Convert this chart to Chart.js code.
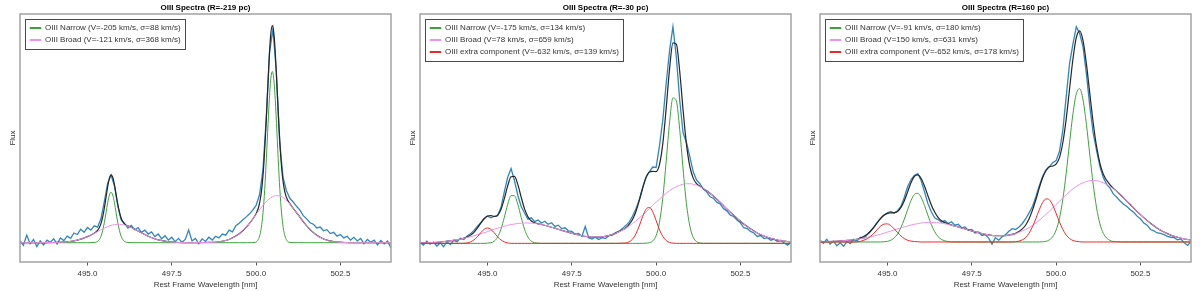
<!DOCTYPE html>
<html>
<head>
<meta charset="utf-8">
<script src="https://cdn.jsdelivr.net/npm/chart.js@4.4.1/dist/chart.umd.min.js"></script>
<style>
  body { margin: 0; background: #fff; }
  .row { display: flex; width: 1200px; height: 291px; }
  canvas { display: block; }
</style>
</head>
<body>
<div class="row">
  <canvas id="c1" width="400" height="291"></canvas>
  <canvas id="c2" width="400" height="291"></canvas>
  <canvas id="c3" width="400" height="291"></canvas>
</div>
<script>
// tick labels on the wavelength axis
const xTicks = [495.0, 497.5, 500.0, 502.5];

// spectra are sampled every 0.1 nm from 493.0 to 504.0
const specWave = Array.from({length: 111}, (_, i) => 493 + i / 10);

// --- panel 1 (R=-219 pc) ---
const p1Spec = [
  0.010, -0.012, 0.035, -0.005, 0.015, -0.018, 0.008, -0.010, 0.012, 0.002,
  0.018, -0.006, 0.022, 0.010, 0.030, 0.020, 0.045, 0.038, 0.062, 0.048,
  0.070, 0.058, 0.078, 0.072, 0.110, 0.190, 0.275, 0.312, 0.262, 0.170,
  0.105, 0.088, 0.068, 0.080, 0.060, 0.070, 0.048, 0.058, 0.040, 0.050,
  0.028, 0.040, 0.018, 0.032, 0.012, 0.025, 0.005, 0.020, 0.002, 0.015,
  0.058, 0.008, 0.020, -0.004, 0.018, 0.006, 0.025, 0.012, 0.030, 0.022,
  0.040, 0.035, 0.058, 0.050, 0.078, 0.090, 0.105, 0.118, 0.132, 0.150,
  0.172, 0.220, 0.330, 0.570, 0.880, 0.985, 0.790, 0.460, 0.300, 0.240,
  0.205, 0.188, 0.168, 0.150, 0.125, 0.110, 0.092, 0.085, 0.068, 0.072,
  0.055, 0.060, 0.042, 0.048, 0.030, 0.038, 0.022, 0.030, 0.012, 0.025,
  0.008, 0.020, -0.004, 0.015, 0.002, 0.012, -0.010, 0.010, -0.005, 0.008,
  -0.025
];
const p1Wave = [
  493.0, 493.5, 494.0, 494.4, 494.7, 495.0,
  495.2, 495.25, 495.3, 495.35, 495.4, 495.45, 495.5, 495.55, 495.6, 495.65, 495.7,
  495.75, 495.8, 495.85, 495.9, 495.95, 496.0, 496.05, 496.1, 496.15, 496.2,
  496.5, 496.8, 497.1, 497.4, 497.7, 498.0, 498.5, 498.9, 499.2, 499.5, 499.75,
  499.98, 500.03, 500.08, 500.13, 500.18, 500.23, 500.28, 500.33, 500.38, 500.43, 500.48,
  500.53, 500.58, 500.63, 500.68, 500.73, 500.78, 500.83, 500.88, 500.93, 500.98,
  501.25, 501.5, 501.75, 502.0, 502.3, 502.6, 503.0, 503.5, 504.0
];
const p1Narrow = [
  0, 0, 0, 0, 0, 0,
  0.001, 0.002, 0.006, 0.014, 0.029, 0.055, 0.092, 0.138, 0.185, 0.220, 0.233,
  0.220, 0.185, 0.138, 0.092, 0.055, 0.029, 0.014, 0.006, 0.002, 0.001,
  0, 0, 0, 0, 0, 0, 0, 0, 0, 0, 0,
  0.002, 0.007, 0.020, 0.047, 0.099, 0.186, 0.313, 0.469, 0.627, 0.746, 0.790,
  0.746, 0.627, 0.469, 0.313, 0.186, 0.099, 0.047, 0.020, 0.007, 0.002,
  0, 0, 0, 0, 0, 0, 0, 0, 0
];
const p1Broad = [
  0, 0, 0.001, 0.004, 0.012, 0.028,
  0.043, 0.047, 0.051, 0.055, 0.059, 0.063, 0.067, 0.071, 0.074, 0.077, 0.080,
  0.082, 0.083, 0.084, 0.085, 0.085, 0.084, 0.083, 0.081, 0.079, 0.077,
  0.054, 0.030, 0.013, 0.005, 0.001, 0, 0.001, 0.004, 0.015, 0.041, 0.079,
  0.126, 0.137, 0.147, 0.158, 0.168, 0.177, 0.186, 0.194, 0.201, 0.207, 0.211,
  0.215, 0.217, 0.217, 0.216, 0.214, 0.210, 0.205, 0.198, 0.191, 0.183,
  0.128, 0.078, 0.040, 0.017, 0.005, 0.001, 0, 0, 0
];
const p1Fit = [
  0, 0, 0.001, 0.004, 0.012, 0.028,
  0.044, 0.049, 0.057, 0.069, 0.088, 0.118, 0.159, 0.209, 0.259, 0.297, 0.313,
  0.302, 0.268, 0.222, 0.177, 0.140, 0.113, 0.097, 0.087, 0.081, 0.078,
  0.054, 0.030, 0.013, 0.005, 0.001, 0, 0.001, 0.004, 0.015, 0.041, 0.079,
  0.128, 0.144, 0.167, 0.205, 0.267, 0.363, 0.499, 0.663, 0.828, 0.953, 1.001,
  0.961, 0.844, 0.686, 0.529, 0.400, 0.309, 0.252, 0.218, 0.198, 0.185,
  0.128, 0.078, 0.040, 0.017, 0.005, 0.001, 0, 0, 0
];

// --- model grid shared by panels 2 and 3 ---
const wideWave = [
  493.0, 493.2, 493.4, 493.6, 493.8, 494.0, 494.2, 494.4,
  494.5, 494.6, 494.7, 494.8, 494.9, 495.0, 495.1, 495.2, 495.3, 495.4, 495.5,
  495.6, 495.7, 495.8, 495.9, 496.0, 496.1, 496.2, 496.3, 496.4, 496.5, 496.6,
  496.8, 497.0, 497.2, 497.4, 497.6, 497.8, 498.0, 498.2, 498.4, 498.6, 498.8,
  499.0, 499.1, 499.2, 499.3, 499.4, 499.5, 499.6, 499.7, 499.8, 499.9, 500.0, 500.1,
  500.2, 500.3, 500.4, 500.5, 500.6, 500.7, 500.8, 500.9, 501.0, 501.1, 501.2, 501.3, 501.4,
  501.6, 501.8, 502.0, 502.2, 502.4, 502.6, 502.8, 503.0, 503.2, 503.4, 503.6, 503.8, 504.0
];

// --- panel 2 (R=-30 pc) ---
const p2Spec = [
  0.004, -0.008, 0.010, -0.004, 0.006, -0.012, 0.002, -0.015, 0.008, -0.006,
  0.014, 0.008, 0.024, 0.018, 0.034, 0.045, 0.060, 0.078, 0.095, 0.112,
  0.125, 0.118, 0.124, 0.128, 0.165, 0.238, 0.305, 0.345, 0.290, 0.222,
  0.170, 0.140, 0.112, 0.118, 0.100, 0.108, 0.094, 0.102, 0.088, 0.095,
  0.078, 0.084, 0.068, 0.072, 0.058, 0.055, 0.042, 0.046, 0.032, 0.078,
  0.026, 0.020, 0.028, 0.018, 0.026, 0.022, 0.036, 0.038, 0.050, 0.056,
  0.068, 0.082, 0.098, 0.125, 0.158, 0.200, 0.258, 0.305, 0.330, 0.352,
  0.350, 0.450, 0.570, 0.740, 0.890, 1.000, 0.860, 0.660, 0.510, 0.465,
  0.400, 0.330, 0.292, 0.275, 0.250, 0.238, 0.215, 0.208, 0.190, 0.182,
  0.160, 0.150, 0.130, 0.124, 0.108, 0.095, 0.072, 0.068, 0.055, 0.048,
  0.032, 0.036, 0.022, 0.026, 0.014, 0.020, 0.008, 0.014, 0.002, -0.008,
  0.004
];
const p2Narrow = [
  0, 0, 0, 0, 0, 0, 0, 0,
  0, 0, 0, 0, 0, 0.001, 0.003, 0.010, 0.029, 0.065, 0.120,
  0.180, 0.220, 0.220, 0.180, 0.120, 0.065, 0.029, 0.010, 0.003, 0.001, 0,
  0, 0, 0, 0, 0, 0, 0, 0, 0, 0, 0,
  0, 0, 0, 0, 0, 0, 0, 0.001, 0.003, 0.011, 0.035, 0.096,
  0.211, 0.380, 0.559, 0.671, 0.657, 0.526, 0.343, 0.183, 0.080, 0.028, 0.008, 0.002, 0,
  0, 0, 0, 0, 0, 0, 0, 0, 0, 0, 0, 0, 0
];
const p2Broad = [
  0.002, 0.003, 0.004, 0.006, 0.010, 0.014, 0.020, 0.027,
  0.031, 0.035, 0.040, 0.044, 0.049, 0.054, 0.060, 0.065, 0.070, 0.075, 0.079,
  0.083, 0.087, 0.089, 0.092, 0.093, 0.094, 0.094, 0.093, 0.092, 0.089, 0.087,
  0.079, 0.070, 0.060, 0.051, 0.042, 0.035, 0.030, 0.029, 0.030, 0.036, 0.046,
  0.061, 0.069, 0.080, 0.091, 0.103, 0.117, 0.130, 0.145, 0.160, 0.175, 0.190, 0.204,
  0.218, 0.231, 0.243, 0.253, 0.262, 0.268, 0.273, 0.275, 0.275, 0.273, 0.268, 0.262, 0.253,
  0.231, 0.204, 0.174, 0.144, 0.116, 0.089, 0.067, 0.048, 0.034, 0.023, 0.015, 0.010, 0.006
];
const p2Extra = [
  0, 0, 0, 0, 0, 0, 0, 0.002,
  0.007, 0.016, 0.030, 0.049, 0.065, 0.071, 0.065, 0.049, 0.030, 0.016, 0.007,
  0.002, 0, 0, 0, 0, 0, 0, 0, 0, 0, 0,
  0, 0, 0, 0, 0, 0, 0, 0, 0, 0, 0,
  0.001, 0.002, 0.007, 0.019, 0.043, 0.080, 0.123, 0.157, 0.166, 0.146, 0.106, 0.063,
  0.032, 0.013, 0.004, 0.001, 0, 0, 0, 0, 0, 0, 0, 0, 0,
  0, 0, 0, 0, 0, 0, 0, 0, 0, 0, 0, 0, 0
];
const p2Fit = [
  0.002, 0.003, 0.004, 0.006, 0.010, 0.014, 0.020, 0.029,
  0.038, 0.051, 0.070, 0.093, 0.114, 0.126, 0.128, 0.124, 0.129, 0.156, 0.206,
  0.265, 0.307, 0.309, 0.272, 0.213, 0.159, 0.123, 0.103, 0.095, 0.090, 0.087,
  0.079, 0.070, 0.060, 0.051, 0.042, 0.035, 0.030, 0.029, 0.030, 0.036, 0.046,
  0.062, 0.071, 0.087, 0.110, 0.146, 0.197, 0.253, 0.303, 0.329, 0.332, 0.331, 0.363,
  0.461, 0.624, 0.806, 0.925, 0.919, 0.794, 0.616, 0.458, 0.355, 0.301, 0.276, 0.264, 0.253,
  0.231, 0.204, 0.174, 0.144, 0.116, 0.089, 0.067, 0.048, 0.034, 0.023, 0.015, 0.010, 0.006
];

// --- panel 3 (R=160 pc) ---
const p3Spec = [
  0.008, -0.006, 0.012, -0.010, 0.004, -0.018, -0.004, -0.020, 0.002, -0.008,
  0.012, 0.006, 0.022, 0.016, 0.034, 0.052, 0.070, 0.092, 0.110, 0.124,
  0.136, 0.142, 0.134, 0.145, 0.165, 0.208, 0.258, 0.290, 0.310, 0.318,
  0.285, 0.232, 0.178, 0.140, 0.112, 0.104, 0.092, 0.100, 0.086, 0.094,
  0.078, 0.082, 0.066, 0.070, 0.054, 0.058, 0.042, 0.046, 0.030, 0.034,
  0.018, -0.010, 0.020, 0.008, 0.024, 0.034, 0.050, 0.062, 0.058, 0.070,
  0.086, 0.108, 0.135, 0.165, 0.210, 0.260, 0.305, 0.335, 0.350, 0.368,
  0.378, 0.420, 0.520, 0.675, 0.830, 0.920, 1.000, 0.968, 0.905, 0.780,
  0.630, 0.505, 0.425, 0.350, 0.300, 0.268, 0.250, 0.222, 0.208, 0.190,
  0.175, 0.165, 0.150, 0.138, 0.120, 0.108, 0.088, 0.078, 0.058, 0.052,
  0.042, 0.040, 0.034, 0.026, 0.022, 0.020, 0.010, 0.014, -0.004, -0.016,
  0.002
];
const p3Narrow = [
  0, 0, 0, 0, 0, 0, 0, 0,
  0, 0, 0, 0, 0.001, 0.003, 0.008, 0.019, 0.037, 0.067, 0.106,
  0.151, 0.193, 0.221, 0.226, 0.207, 0.169, 0.124, 0.081, 0.048, 0.025, 0.012,
  0.002, 0, 0, 0, 0, 0, 0, 0, 0, 0, 0,
  0, 0, 0, 0, 0, 0, 0.001, 0.003, 0.010, 0.024, 0.055, 0.110,
  0.199, 0.320, 0.462, 0.596, 0.689, 0.712, 0.659, 0.545, 0.404, 0.268, 0.159, 0.084, 0.040,
  0.007, 0.001, 0, 0, 0, 0, 0, 0, 0, 0, 0, 0, 0
];
const p3Broad = [
  0.001, 0.002, 0.003, 0.005, 0.007, 0.010, 0.015, 0.021,
  0.024, 0.028, 0.032, 0.036, 0.041, 0.046, 0.051, 0.056, 0.061, 0.066, 0.070,
  0.075, 0.079, 0.082, 0.085, 0.088, 0.090, 0.091, 0.091, 0.091, 0.089, 0.087,
  0.082, 0.074, 0.065, 0.056, 0.047, 0.039, 0.033, 0.029, 0.029, 0.032, 0.039,
  0.051, 0.058, 0.067, 0.077, 0.088, 0.101, 0.114, 0.128, 0.143, 0.158, 0.174, 0.189,
  0.205, 0.220, 0.234, 0.247, 0.258, 0.268, 0.275, 0.281, 0.285, 0.286, 0.285, 0.281, 0.275,
  0.258, 0.234, 0.205, 0.174, 0.142, 0.113, 0.087, 0.064, 0.046, 0.032, 0.022, 0.014, 0.009
];
const p3Extra = [
  0, 0, 0, 0, 0, 0, 0.003, 0.015,
  0.026, 0.041, 0.058, 0.074, 0.083, 0.084, 0.076, 0.061, 0.044, 0.028, 0.016,
  0.008, 0.004, 0.002, 0.001, 0, 0, 0, 0, 0, 0, 0,
  0, 0, 0, 0, 0, 0, 0, 0, 0, 0, 0.001,
  0.010, 0.021, 0.041, 0.071, 0.108, 0.149, 0.183, 0.200, 0.196, 0.171, 0.133, 0.093,
  0.058, 0.032, 0.016, 0.007, 0.003, 0.001, 0, 0, 0, 0, 0, 0, 0,
  0, 0, 0, 0, 0, 0, 0, 0, 0, 0, 0, 0, 0
];
const p3Fit = [
  0.001, 0.002, 0.003, 0.005, 0.007, 0.010, 0.018, 0.036,
  0.050, 0.069, 0.090, 0.110, 0.125, 0.133, 0.135, 0.136, 0.142, 0.161, 0.192,
  0.234, 0.276, 0.305, 0.312, 0.295, 0.259, 0.215, 0.172, 0.139, 0.114, 0.099,
  0.084, 0.074, 0.065, 0.056, 0.047, 0.039, 0.033, 0.029, 0.029, 0.032, 0.040,
  0.061, 0.079, 0.108, 0.148, 0.196, 0.250, 0.298, 0.331, 0.349, 0.353, 0.362, 0.392,
  0.462, 0.572, 0.712, 0.850, 0.950, 0.981, 0.934, 0.826, 0.689, 0.554, 0.444, 0.365, 0.315,
  0.265, 0.235, 0.205, 0.174, 0.142, 0.113, 0.087, 0.064, 0.046, 0.032, 0.022, 0.014, 0.009
];

const FONT = 'Liberation Sans, Arial, Helvetica, sans-serif';
Chart.defaults.font.family = FONT;
Chart.defaults.font.size = 8;
Chart.defaults.color = '#333';

const BLUE = '#2f86c0';
const BLACK = '#262626';
const GREEN = '#3ca33c';
const PINK = '#ee92ec';
const RED = '#f02828';

const pts = (xs, ys) => xs.map((x, i) => ({x: x, y: ys[i]}));

// frame round the plot area and round the legend, legend moved a bit inside
const framePlugin = {
  id: 'frame',
  afterLayout(chart) {
    const a = chart.chartArea;
    chart.legend.left = a.left + 6;
    chart.legend.top = a.top + 6;
    chart.legend.bottom = a.bottom;
  },
  afterDraw(chart) {
    const {ctx, chartArea: a} = chart;
    ctx.save();
    ctx.strokeStyle = '#a3a3a3';
    ctx.lineWidth = 1.5;
    ctx.strokeRect(a.left, a.top, a.right - a.left, a.bottom - a.top);
    const hb = chart.legend.legendHitBoxes;
    if (hb && hb.length) {
      const l = Math.min(...hb.map(b => b.left)) - 5;
      const r = Math.max(...hb.map(b => b.left + b.width)) + 4;
      const t = Math.min(...hb.map(b => b.top)) - 5;
      const b = Math.max(...hb.map(b => b.top + b.height)) + 5;
      ctx.strokeStyle = '#4a4a4a';
      ctx.lineWidth = 1;
      ctx.strokeRect(Math.round(l) + 0.5, Math.round(t) + 0.5, Math.round(r - l), Math.round(b - t));
    }
    ctx.restore();
  }
};

function makeChart(id, title, yMin, yMax, comps, spec, modelWave, fit) {
  const compSets = comps.map((c, i) => ({
    label: c.label,
    data: pts(modelWave, c.values),
    borderColor: c.color,
    backgroundColor: c.color,
    borderWidth: 1,
    cubicInterpolationMode: 'monotone',
    order: 3 - i
  }));
  const datasets = compSets.concat([
    {label: 'spectrum', data: pts(specWave, spec), borderColor: BLUE, backgroundColor: BLUE, borderWidth: 1.3, order: 6},
    {label: 'fit', data: pts(modelWave, fit), borderColor: BLACK, backgroundColor: BLACK, borderWidth: 1.2, cubicInterpolationMode: 'monotone', order: 5}
  ]);
  return new Chart(document.getElementById(id), {
    type: 'line',
    data: {datasets: datasets},
    options: {
      responsive: false,
      animation: false,
      layout: {padding: {left: 0, right: 9, top: 0, bottom: 0}},
      elements: {point: {radius: 0}, line: {tension: 0}},
      plugins: {
        title: {
          display: true, text: title, color: '#000', fullSize: false,
          font: {size: 8, weight: 'bold'},
          padding: {top: 2.7, bottom: 1.7}
        },
        legend: {
          position: 'chartArea',
          align: 'start',
          labels: {
            filter: item => item.datasetIndex < comps.length,
            sort: (a, b) => a.datasetIndex - b.datasetIndex,
            boxWidth: 11, boxHeight: 1, padding: 4,
            color: '#333', font: {size: 8}
          }
        },
        tooltip: {enabled: false}
      },
      scales: {
        x: {
          type: 'linear', min: 493, max: 504,
          afterBuildTicks: s => { s.ticks = xTicks.map(v => ({value: v})); },
          afterFit: s => { s.height = 29; },
          ticks: {callback: v => v.toFixed(1), padding: 3.5, maxRotation: 0, autoSkip: false, color: '#333'},
          grid: {drawOnChartArea: false, drawTicks: true, tickLength: 3.5, tickColor: '#555'},
          border: {display: false},
          title: {display: true, text: 'Rest Frame Wavelength [nm]', color: '#333', padding: {top: 0, bottom: 1.9}}
        },
        y: {
          min: yMin, max: yMax,
          afterFit: s => { s.width = 20; },
          ticks: {display: false},
          grid: {display: false},
          border: {display: false},
          title: {display: true, text: 'Flux', color: '#333', padding: {top: 8, bottom: 0}}
        }
      }
    },
    plugins: [framePlugin]
  });
}

makeChart('c1', 'OIII Spectra (R=-219 pc)', -0.089, 1.055, [
  {label: 'OIII Narrow (V=-205 km/s, σ=88 km/s)', values: p1Narrow, color: GREEN},
  {label: 'OIII Broad (V=-121 km/s, σ=368 km/s)', values: p1Broad, color: PINK}
], p1Spec, p1Wave, p1Fit);

makeChart('c2', 'OIII Spectra (R=-30 pc)', -0.086, 1.058, [
  {label: 'OIII Narrow (V=-175 km/s, σ=134 km/s)', values: p2Narrow, color: GREEN},
  {label: 'OIII Broad (V=78 km/s, σ=659 km/s)', values: p2Broad, color: PINK},
  {label: 'OIII extra component (V=-632 km/s, σ=139 km/s)', values: p2Extra, color: RED}
], p2Spec, wideWave, p2Fit);

makeChart('c3', 'OIII Spectra (R=160 pc)', -0.093, 1.059, [
  {label: 'OIII Narrow (V=-91 km/s, σ=180 km/s)', values: p3Narrow, color: GREEN},
  {label: 'OIII Broad (V=150 km/s, σ=631 km/s)', values: p3Broad, color: PINK},
  {label: 'OIII extra component (V=-652 km/s, σ=178 km/s)', values: p3Extra, color: RED}
], p3Spec, wideWave, p3Fit);
</script>
</body>
</html>
